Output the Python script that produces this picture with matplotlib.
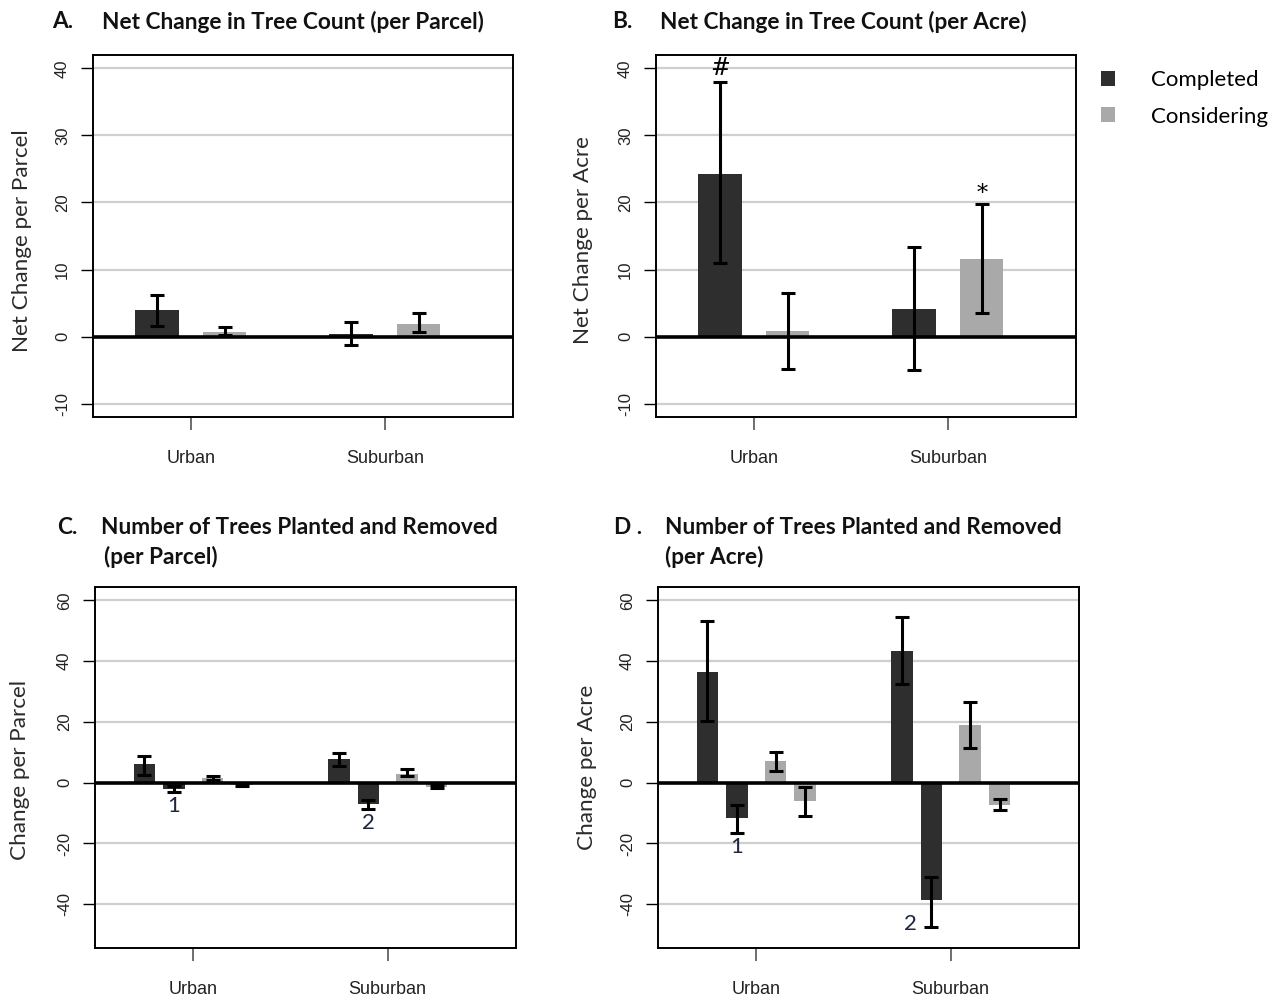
import numpy as np
import matplotlib
matplotlib.use('Agg')
import matplotlib.pyplot as plt

# categories / series
groups = ['Urban', 'Suburban']
series = ['Completed', 'Considering']

# A. net change per parcel  (mean, lower, upper)
net_parcel_completed = [3.9, 0.4]
net_parcel_completed_lo = [1.6, -1.2]
net_parcel_completed_hi = [6.2, 2.1]
net_parcel_considering = [0.7, 1.8]
net_parcel_considering_lo = [0.2, 0.7]
net_parcel_considering_hi = [1.4, 3.5]

# B. net change per acre
net_acre_completed = [24.2, 4.1]
net_acre_completed_lo = [11.0, -5.0]
net_acre_completed_hi = [37.9, 13.4]
net_acre_considering = [0.9, 11.5]
net_acre_considering_lo = [-4.8, 3.5]
net_acre_considering_hi = [6.5, 19.7]

# C. planted / removed per parcel
parcel_completed_planted = [6.0, 7.9]
parcel_completed_planted_lo = [2.6, 5.5]
parcel_completed_planted_hi = [8.9, 9.7]
parcel_completed_removed = [-2.0, -6.9]
parcel_completed_removed_lo = [-3.1, -8.8]
parcel_completed_removed_hi = [-1.2, -5.6]
parcel_considering_planted = [1.5, 3.0]
parcel_considering_planted_lo = [0.8, 2.3]
parcel_considering_planted_hi = [2.2, 4.6]
parcel_considering_removed = [-0.6, -1.3]
parcel_considering_removed_lo = [-1.2, -1.9]
parcel_considering_removed_hi = [-0.1, -0.8]

# D. planted / removed per acre
acre_completed_planted = [36.3, 43.4]
acre_completed_planted_lo = [20.2, 32.5]
acre_completed_planted_hi = [53.2, 54.5]
acre_completed_removed = [-11.5, -38.7]
acre_completed_removed_lo = [-16.6, -47.4]
acre_completed_removed_hi = [-7.4, -30.9]
acre_considering_planted = [7.0, 19.1]
acre_considering_planted_lo = [3.9, 11.3]
acre_considering_planted_hi = [10.2, 26.7]
acre_considering_removed = [-5.9, -7.4]
acre_considering_removed_lo = [-10.8, -9.1]
acre_considering_removed_hi = [-1.4, -5.5]

ticks_net = [-10, 0, 10, 20, 30, 40]
ticks_pr = [-40, -20, 0, 20, 40, 60]

dark = '#2e2e2e'
light = '#a9a9a9'
TITLE_FONT = 'Lato'
TICK_FONT = 'Liberation Sans'


def bars_with_err(ax, offset, width, vals, lo, hi, color, label=None):
    x = np.arange(len(groups)) + offset
    vals = np.array(vals)
    err = [vals - np.array(lo), np.array(hi) - vals]
    b = ax.bar(x, vals, width, color=color, label=label, zorder=2)
    ax.errorbar(x, vals, yerr=err, fmt='none', ecolor='k', elinewidth=2.2,
                capsize=5, capthick=2.2, zorder=4)
    return b


def style_axes(ax, yticks, ylim):
    ax.set_xlim(-0.505, 1.66)
    ax.set_ylim(*ylim)
    ax.set_yticks(yticks)
    ax.set_yticklabels([str(t) for t in yticks], rotation=90, va='center',
                       fontfamily=TICK_FONT, fontsize=12, color='#222222')
    ax.set_xticks(range(len(groups)))
    ax.set_xticklabels(groups, fontfamily=TICK_FONT, fontsize=13, color='#222222')
    ax.tick_params(axis='y', length=8.5, width=1, pad=8)
    ax.tick_params(axis='x', length=9, width=1.2, color='#555555', pad=15)
    for t in yticks:
        if t != 0:
            ax.axhline(t, color='#cfcfcf', lw=1.6, zorder=1)
    ax.axhline(0, color='k', lw=2.6, zorder=3)
    for s in ax.spines.values():
        s.set_linewidth(1.4)
        s.set_color('k')


fig = plt.figure(figsize=(12.8, 10.02), dpi=100)
W, H = 1280., 1002.


def add_ax(x0, y0, x1, y1):
    return fig.add_axes([x0 / W, 1 - y1 / H, (x1 - x0) / W, (y1 - y0) / H])


axA = add_ax(93, 55, 513, 417)
axB = add_ax(656, 55, 1076, 417)
axC = add_ax(95, 587, 516, 948)
axD = add_ax(658, 587, 1079, 948)

# panel A
bars_with_err(axA, -0.175, 0.222, net_parcel_completed, net_parcel_completed_lo, net_parcel_completed_hi, dark)
bars_with_err(axA, 0.175, 0.222, net_parcel_considering, net_parcel_considering_lo, net_parcel_considering_hi, light)
style_axes(axA, ticks_net, (-12, 42))

# panel B
bB1 = bars_with_err(axB, -0.175, 0.222, net_acre_completed, net_acre_completed_lo, net_acre_completed_hi, dark, series[0])
bB2 = bars_with_err(axB, 0.175, 0.222, net_acre_considering, net_acre_considering_lo, net_acre_considering_hi, light, series[1])
style_axes(axB, ticks_net, (-12, 42))
axB.text(0 - 0.175, 40.0, '#', ha='center', va='center', fontsize=17, family='DejaVu Serif', zorder=5)
axB.text(1 + 0.175, 21.3, '*', ha='center', va='center', fontsize=16, family='DejaVu Serif', zorder=5)

# panel C
offs = [-0.2515, -0.0995, 0.0995, 0.2515]
w4 = 0.111
bars_with_err(axC, offs[0], w4, parcel_completed_planted, parcel_completed_planted_lo, parcel_completed_planted_hi, dark)
bars_with_err(axC, offs[1], w4, parcel_completed_removed, parcel_completed_removed_lo, parcel_completed_removed_hi, dark)
bars_with_err(axC, offs[2], w4, parcel_considering_planted, parcel_considering_planted_lo, parcel_considering_planted_hi, light)
bars_with_err(axC, offs[3], w4, parcel_considering_removed, parcel_considering_removed_lo, parcel_considering_removed_hi, light)
style_axes(axC, ticks_pr, (-54.4, 64.4))
axC.text(0 + offs[1], -7.8, '1', ha='center', va='center', fontsize=16, family=TITLE_FONT, color='#1d2540', zorder=5)
axC.text(1 + offs[1], -13.3, '2', ha='center', va='center', fontsize=16, family=TITLE_FONT, color='#1d2540', zorder=5)

# panel D
bars_with_err(axD, offs[0], w4, acre_completed_planted, acre_completed_planted_lo, acre_completed_planted_hi, dark)
bars_with_err(axD, offs[1], w4, acre_completed_removed, acre_completed_removed_lo, acre_completed_removed_hi, dark)
bars_with_err(axD, offs[2], w4, acre_considering_planted, acre_considering_planted_lo, acre_considering_planted_hi, light)
bars_with_err(axD, offs[3], w4, acre_considering_removed, acre_considering_removed_lo, acre_considering_removed_hi, light)
style_axes(axD, ticks_pr, (-54.4, 64.4))
axD.text(0 + offs[1], -21.3, '1', ha='center', va='center', fontsize=16, family=TITLE_FONT, color='#1d2540', zorder=5)
axD.text(1 - 0.205, -46.6, '2', ha='center', va='center', fontsize=16, family=TITLE_FONT, color='#1d2540', zorder=5)

# titles
def ftext(x, y, s, **kw):
    fig.text(x / W, 1 - y / H, s, **kw)

tkw = dict(fontsize=16.3, fontweight='bold', family=TITLE_FONT, va='center', ha='left', color='#111111')
ftext(52, 22, 'A.', **tkw)
ftext(102, 22, 'Net Change in Tree Count (per Parcel)', **tkw)
ftext(612, 22, 'B.', **tkw)
ftext(660, 22, 'Net Change in Tree Count (per Acre)', **tkw)
ftext(57, 527, 'C.', **tkw)
ftext(101, 527, 'Number of Trees Planted and Removed', **tkw)
ftext(104, 557, '(per Parcel)', **tkw)
ftext(614, 527, 'D .', **tkw)
ftext(665, 527, 'Number of Trees Planted and Removed', **tkw)
ftext(665, 557, '(per Acre)', **tkw)

# y labels
lkw = dict(fontsize=16.2, family=TITLE_FONT, rotation=90, ha='center', va='center', color='#2a2a2a')
ftext(22, 241, 'Net Change per Parcel', **lkw)
ftext(583, 240, 'Net Change per Acre', **lkw)
ftext(20, 770, 'Change per Parcel', **lkw)
ftext(587, 767, 'Change per Acre', **lkw)

# legend
fig.legend([bB1, bB2], series, loc='upper left', bbox_to_anchor=(1081 / W, 1 - 50 / H),
           frameon=False, handlelength=0.65, handleheight=0.65, handletextpad=1.6,
           labelspacing=0.75, prop={'family': TITLE_FONT, 'size': 16})

fig.savefig('out.png', dpi=100)
